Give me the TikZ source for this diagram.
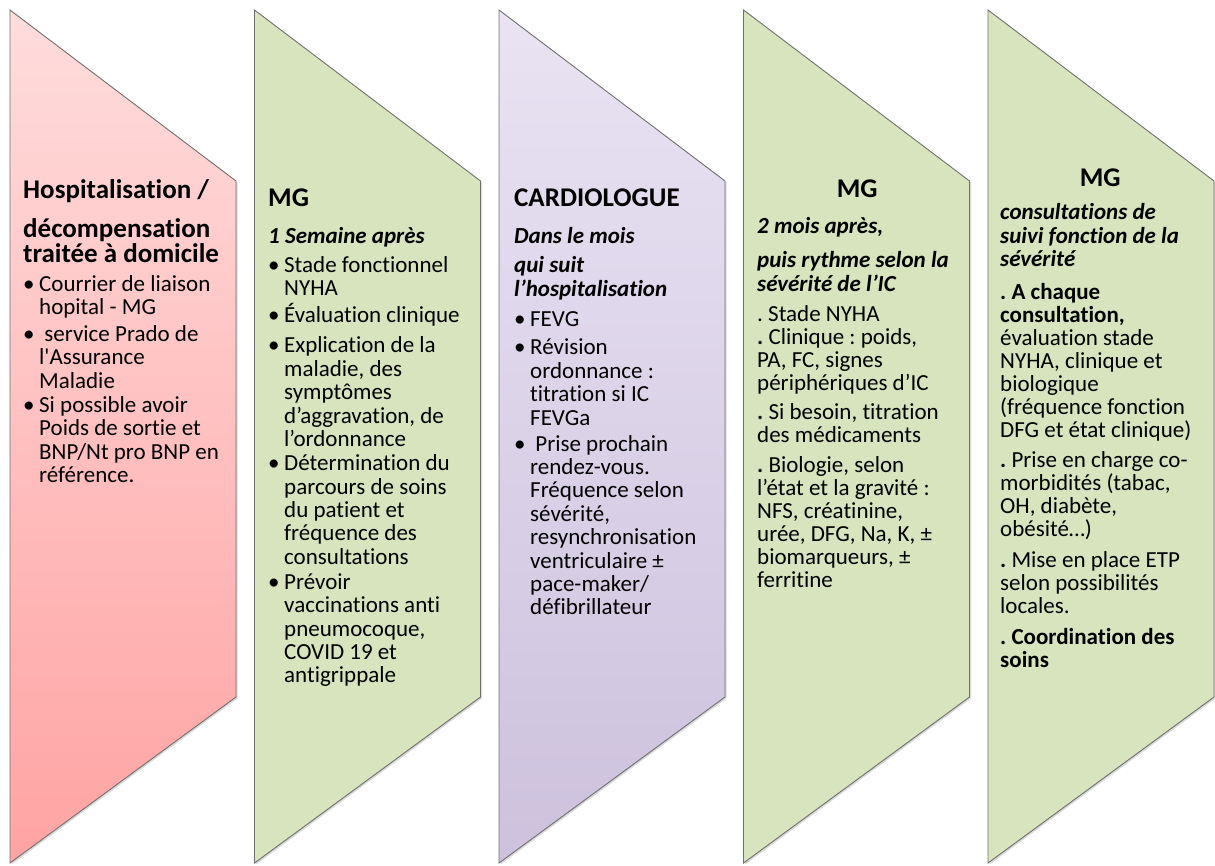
\documentclass[tikz,border=0pt]{standalone}
\usepackage{fontspec}
\setmainfont{Carlito}[Ligatures=NoCommon]
\usepackage{tikz}
\usetikzlibrary{shadows}
\frenchspacing

\definecolor{pinktop}{RGB}{255,220,220}
\definecolor{pinkbot}{RGB}{255,163,163}
\definecolor{olivefill}{RGB}{215,228,189}
\definecolor{lilactop}{RGB}{233,227,243}
\definecolor{lilacbot}{RGB}{205,193,221}
\definecolor{edgegray}{RGB}{112,112,112}

\newcommand{\ttlfont}{\fontsize{27}{25}\selectfont\bfseries}
\newcommand{\subfont}{\fontsize{23}{23.5}\selectfont\bfseries\itshape}
\newcommand{\bodyfont}{\fontsize{23}{23.4}\selectfont}
\newcommand{\parafont}{\fontsize{23}{23}\selectfont}
\newcommand{\itm}[1]{\noindent\makebox[16pt][l]{•}\parbox[t]{200pt}{\bodyfont\raggedright #1}\par}
\newcommand{\ctitle}[1]{{\ttlfont\noindent\makebox[200pt]{#1}\par}}

\begin{document}
\begin{tikzpicture}[x=1pt,y=-1pt,
	stage/.style={draw=edgegray,line width=0.9pt,drop shadow={shadow xshift=1.5pt,shadow yshift=-1.5pt,opacity=0.3}},
	pinkstage/.style={stage,top color=pinktop,bottom color=pinkbot},
	olivestage/.style={stage,fill=olivefill},
	lilacstage/.style={stage,top color=lilactop,bottom color=lilacbot},
	stagetext/.style={anchor=base west,inner sep=0pt,text width=230pt,align=flush left,font=\bodyfont}]
	\useasboundingbox (0,0) rectangle (1215,865);
	%stages
	\foreach \l/\s in {10/pinkstage,254.5/olivestage,499/lilacstage,743.5/olivestage,988/olivestage}
		\draw[\s] (\l,10) -- ++(226,171) -- ++(0,516) -- (\l,863) -- cycle;
	%texts
	\node[stagetext] (hosp) at (23,198) {%
		{\ttlfont Hospitalisation /\par}\vspace{14pt}
		{\ttlfont décompensation\\ traitée à domicile\par}\vspace{6pt}
		\itm{Courrier de liaison\\ hopital - MG}\vspace{6pt}
		\itm{\ service Prado de\\ l\textquotesingle Assurance\\ Maladie}\vspace{7pt}
		\itm{Si possible avoir\\ Poids de sortie et\\ BNP/Nt pro BNP en\\ référence.}};
	\node[stagetext] (mgweek) at (268,206) {%
		{\ttlfont MG\par}\vspace{14pt}
		{\subfont 1 Semaine après\par}\vspace{5.5pt}
		\itm{Stade fonctionnel\\ NYHA}\vspace{6.5pt}
		\itm{Évaluation clinique}\vspace{7pt}
		\itm{Explication de la\\ maladie, des\\ symptômes\\ d’aggravation, de\\ l’ordonnance}\vspace{7pt}
		\itm{Détermination du\\ parcours de soins\\ du patient et\\ fréquence des\\ consultations}\vspace{8pt}
		\itm{Prévoir\\ vaccinations anti\\ pneumocoque,\\ COVID 19 et\\ antigrippale}};
	\node[stagetext] (cardio) at (514,206) {%
		{\ttlfont CARDIOLOGUE\par}\vspace{14pt}
		{\subfont Dans le mois\par}\vspace{5.5pt}
		{\subfont qui suit\\ l’hospitalisation\par}\vspace{7pt}
		\itm{FEVG}\vspace{5pt}
		\itm{Révision\\ ordonnance :\\ titration si IC\\ FEVGa}\vspace{9pt}
		\itm{\ Prise prochain\\ rendez-vous.\\ Fréquence selon\\ sévérité,\\ resynchronisation\\ ventriculaire ±\\ pace-maker/\\ défibrillateur}};
	\node[stagetext,font=\parafont] (mgmonths) at (757,197) {%
		\ctitle{MG}\vspace{13pt}
		{\subfont 2 mois après,\par}\vspace{10.5pt}
		{\subfont puis rythme selon la\\ sévérité de l’IC\par}\vspace{7pt}
		. Stade NYHA\\ \textbf{.} Clinique : poids,\\ PA, FC, signes\\ périphériques d’IC\par\vspace{6pt}
		\textbf{.} Si besoin, titration\\ des médicaments\par\vspace{7pt}
		\textbf{.} Biologie, selon\\ l’état et la gravité :\\ NFS, créatinine,\\ urée, DFG, Na, K, ±\\ biomarqueurs, ±\\ ferritine\par};
	\node[stagetext,font=\parafont] (mgfollow) at (1000,186) {%
		\ctitle{MG}\vspace{10pt}
		{\subfont consultations de\\ suivi fonction de la\\ sévérité\par}\vspace{10pt}
		{\bfseries . A chaque\\ consultation,}\\ évaluation stade\\ NYHA, clinique et\\ biologique\\ (fréquence fonction\\ DFG et état clinique)\par\vspace{7pt}
		\textbf{.} Prise en charge co-\\ morbidités (tabac,\\ OH, diabète,\\ obésité…)\par\vspace{8pt}
		\textbf{.} Mise en place ETP\\ selon possibilités\\ locales.\par\vspace{8pt}
		{\bfseries . Coordination des\\ soins\par}};
\end{tikzpicture}
\end{document}
